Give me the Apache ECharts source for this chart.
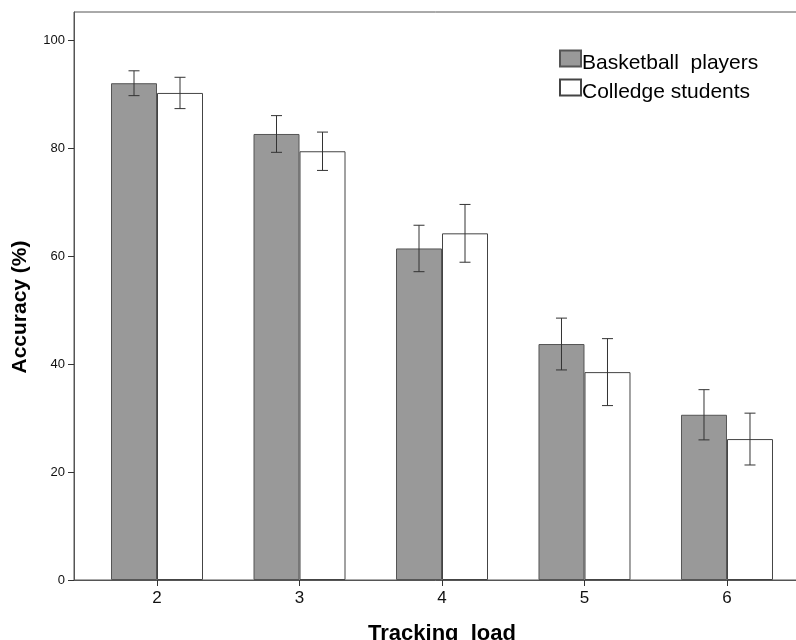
<!DOCTYPE html>
<html>
<head>
<meta charset="utf-8">
<script src="https://cdn.jsdelivr.net/npm/echarts@6/dist/echarts.min.js"></script>
<style>
  html, body { margin: 0; padding: 0; background: #fff; }
  #chart { width: 796px; height: 640px; }
</style>
</head>
<body>
<div id="chart"></div>
<script>
// Tracking loads (x categories) and mean accuracy with error half-widths
const loads = [2, 3, 4, 5, 6];
const yTicks = [0, 20, 40, 60, 80, 100];
const seriesNames = ['Basketball  players', 'Colledge students'];
const basketballMean = [92.0, 82.6, 61.4, 43.7, 30.6];
const basketballErr = [2.3, 3.4, 4.3, 4.8, 4.65];
const collegeMean = [90.2, 79.4, 64.2, 38.5, 26.1];
const collegeErr = [2.9, 3.55, 5.35, 6.2, 4.8];

const FONT = 'Liberation Sans, Arial, sans-serif';
const BAR_W = 46;

const pairs = (vals) => loads.map((x, i) => [x, vals[i]]);
const errRows = (means, errs) => loads.map((x, i) => [x, means[i] - errs[i], means[i] + errs[i]]);

function errorBar(side) {
  return function (params, api) {
    const x = api.value(0);
    const lo = api.coord([x, api.value(1)]);
    const hi = api.coord([x, api.value(2)]);
    const cx = lo[0] + side * BAR_W / 2;
    const cap = 5.5;
    const style = { stroke: '#333', lineWidth: 1 };
    return {
      type: 'group',
      children: [
        { type: 'line', shape: { x1: cx, y1: hi[1], x2: cx, y2: lo[1] }, style },
        { type: 'line', shape: { x1: cx - cap, y1: hi[1], x2: cx + cap, y2: hi[1] }, style },
        { type: 'line', shape: { x1: cx - cap, y1: lo[1], x2: cx + cap, y2: lo[1] }, style }
      ]
    };
  };
}

const chart = echarts.init(document.getElementById('chart'), null, { renderer: 'canvas' });
chart.setOption({
  animation: false,
  backgroundColor: '#fff',
  textStyle: { fontFamily: FONT },
  grid: {
    left: 74, top: 12, right: -14, bottom: 60,
    containLabel: false,
    outerBoundsMode: 'none',
    show: true, borderColor: '#555', borderWidth: 1, backgroundColor: 'transparent'
  },
  legend: {
    data: seriesNames,
    orient: 'vertical',
    left: 559, top: 43,
    padding: 0,
    icon: 'rect',
    itemWidth: 21, itemHeight: 16,
    itemGap: -2,
    formatter: '{t|{name}}',
    textStyle: {
      fontSize: 21, color: '#000', fontFamily: FONT,
      rich: {
        t: { fontSize: 21, color: '#000', fontFamily: FONT, lineHeight: 16, padding: [10, 0, 0, -4] }
      }
    }
  },
  xAxis: {
    type: 'value',
    min: 1.4175, max: 6.5825,
    name: 'Tracking  load',
    nameLocation: 'middle',
    nameGap: 43,
    nameTextStyle: { fontSize: 22, fontWeight: 'bold', color: '#000', fontFamily: FONT },
    splitLine: { show: false },
    axisLine: { show: true, lineStyle: { color: '#555' } },
    axisTick: { show: true, length: 6, customValues: loads, lineStyle: { color: '#333' } },
    axisLabel: { customValues: loads, fontSize: 17, color: '#111', margin: 10, fontFamily: FONT }
  },
  yAxis: {
    type: 'value',
    min: 0, max: 105.19,
    name: 'Accuracy (%)',
    nameLocation: 'middle',
    nameGap: 43,
    nameTextStyle: {
      fontSize: 21, fontWeight: 'bold', color: '#000', fontFamily: FONT,
      padding: [0, 22, 0, 0]
    },
    splitLine: { show: false },
    axisLine: { show: true, lineStyle: { color: '#555' } },
    axisTick: { show: true, length: 6, customValues: yTicks, lineStyle: { color: '#333' } },
    axisLabel: { customValues: yTicks, fontSize: 13, color: '#111', margin: 9, fontFamily: FONT }
  },
  series: [
    {
      name: seriesNames[0],
      type: 'bar',
      data: pairs(basketballMean),
      barWidth: BAR_W,
      barGap: '0%',
      itemStyle: { color: '#999999', borderColor: '#555', borderWidth: 1 }
    },
    {
      name: seriesNames[1],
      type: 'bar',
      data: pairs(collegeMean),
      barWidth: BAR_W,
      barGap: '0%',
      itemStyle: { color: '#ffffff', borderColor: '#444', borderWidth: 1 }
    },
    {
      type: 'custom',
      renderItem: errorBar(-1),
      data: errRows(basketballMean, basketballErr),
      encode: { x: 0, y: [1, 2] },
      z: 10
    },
    {
      type: 'custom',
      renderItem: errorBar(1),
      data: errRows(collegeMean, collegeErr),
      encode: { x: 0, y: [1, 2] },
      z: 10
    }
  ]
});
</script>
</body>
</html>
